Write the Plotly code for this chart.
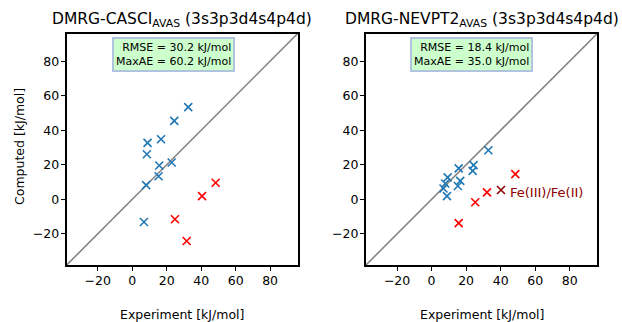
import plotly.graph_objects as go

# ---- data ----
casci_blue_exp = [32.5, 24.4, 16.7, 8.9, 8.5, 15.7, 22.9, 15.3, 8.1, 6.8]
casci_blue_calc = [53.4, 45.4, 34.8, 32.7, 26.1, 19.6, 21.3, 13.4, 8.2, -13.1]
casci_red_exp = [48.4, 40.5, 24.8, 31.6]
casci_red_calc = [9.6, 1.9, -11.5, -24.1]

nevpt2_blue_exp = [32.9, 15.7, 24.3, 23.8, 9.3, 7.9, 6.9, 8.9, 16.6, 15.2]
nevpt2_blue_calc = [28.4, 17.9, 19.8, 16.5, 12.7, 9.2, 6.3, 1.9, 10.7, 7.7]
nevpt2_red_exp = [48.5, 32.1, 25.3, 15.7]
nevpt2_red_calc = [14.6, 4.0, -1.7, -13.8]
fe_exp = [40.2]
fe_nevpt2 = [5.4]
fe_label = "Fe(III)/Fe(II)"

titles = ["DMRG-CASCI<sub>AVAS</sub> (3s3p3d4s4p4d)",
          "DMRG-NEVPT2<sub>AVAS</sub> (3s3p3d4s4p4d)"]
stats = ["RMSE = 30.2 kJ/mol<br>MaxAE = 60.2 kJ/mol",
         "RMSE = 18.4 kJ/mol<br>MaxAE = 35.0 kJ/mol"]
xlabel = "Experiment [kJ/mol]"
ylabel = "Computed [kJ/mol]"
tickvals = [-20, 0, 20, 40, 60, 80]
axis_range = [-38, 96]

W, H = 622, 322
FONT = "DejaVu Sans"
BLUE = "#1f77b4"
RED = "#ff0000"
DARKRED = "#8b0000"


def px_x(p):
    return p / W


def px_y(p):
    return 1 - p / H


fig = go.Figure()


def marks(x, y, color, xa, ya):
    fig.add_trace(go.Scatter(
        x=x, y=y, mode="markers", xaxis=xa, yaxis=ya, showlegend=False,
        marker=dict(symbol="x-thin", size=8, color=color,
                    line=dict(color=color, width=1.6))))


for xa, ya in [("x", "y"), ("x2", "y2")]:
    fig.add_trace(go.Scatter(x=axis_range, y=axis_range, mode="lines",
                             xaxis=xa, yaxis=ya, showlegend=False,
                             line=dict(color="gray", width=1.5)))

marks(casci_blue_exp, casci_blue_calc, BLUE, "x", "y")
marks(casci_red_exp, casci_red_calc, RED, "x", "y")
marks(nevpt2_blue_exp, nevpt2_blue_calc, BLUE, "x2", "y2")
marks(nevpt2_red_exp, nevpt2_red_calc, RED, "x2", "y2")
marks(fe_exp, fe_nevpt2, DARKRED, "x2", "y2")

ydom = [px_y(265), px_y(33.5)]
doms = [[px_x(66.7), px_x(297.7)], [px_x(366), px_x(597.3)]]

axcommon = dict(range=axis_range, tickvals=tickvals, ticks="outside", ticklen=4,
                tickwidth=1, tickcolor="black", showline=True, linewidth=2,
                linecolor="black", mirror=True, showgrid=False, zeroline=False,
                ticklabelstandoff=-1,
                tickfont=dict(family=FONT, size=12.5, color="black"))

layout = dict(
    width=W, height=H, margin=dict(l=0, r=0, t=0, b=0),
    paper_bgcolor="white", plot_bgcolor="white",
    xaxis=dict(domain=doms[0], anchor="y", **axcommon),
    yaxis=dict(domain=ydom, anchor="x", **axcommon),
    xaxis2=dict(domain=doms[1], anchor="y2", **axcommon),
    yaxis2=dict(domain=ydom, anchor="x2", **axcommon),
)
fig.update_layout(**layout)

centers = [181.5, 482]
box_centers = [173, 471]
ann = []
for i in range(2):
    ann.append(dict(text=titles[i], x=px_x(centers[i]), y=px_y(20), xref="paper", yref="paper",
                    xanchor="center", yanchor="middle", showarrow=False,
                    font=dict(family=FONT, size=15.5, color="black")))
    ann.append(dict(text=xlabel, x=px_x(centers[i]), y=px_y(314), xref="paper", yref="paper",
                    xanchor="center", yanchor="middle", showarrow=False,
                    font=dict(family=FONT, size=12.5, color="black")))
    ann.append(dict(text=stats[i], x=px_x(box_centers[i]), y=px_y(55), xref="paper", yref="paper",
                    xanchor="center", yanchor="middle", showarrow=False, align="right",
                    bgcolor="#ccffcc", bordercolor="#b0c4de", borderwidth=2, borderpad=2,
                    font=dict(family=FONT, size=11, color="black")))
ann.append(dict(text=ylabel, x=px_x(19), y=px_y(147), xref="paper", yref="paper",
                xanchor="center", yanchor="middle", showarrow=False, textangle=-90,
                font=dict(family=FONT, size=12.5, color="black")))
ann.append(dict(text=fe_label, x=fe_exp[0] + 4.2, y=fe_nevpt2[0] - 1.5, xref="x2", yref="y2",
                xanchor="left", yanchor="middle", showarrow=False,
                font=dict(family=FONT, size=13, color=DARKRED)))
fig.update_layout(annotations=ann)

fig.write_html("out.html")
